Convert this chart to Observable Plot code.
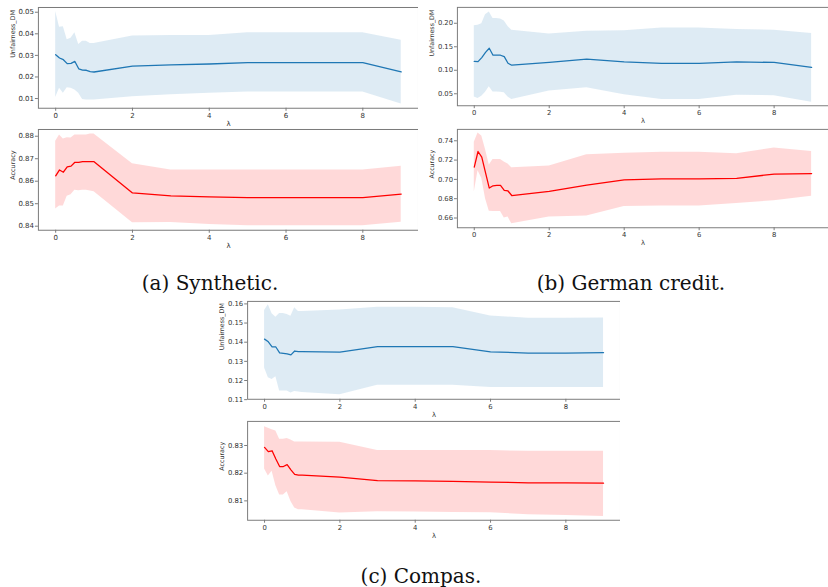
<!DOCTYPE html>
<html>
<head>
<meta charset="utf-8">
<script src="https://cdn.jsdelivr.net/npm/d3@7"></script>
<script src="https://cdn.jsdelivr.net/npm/@observablehq/plot@0.6"></script>
<style>
  html, body { margin: 0; padding: 0; background: #fff; }
  #root { position: relative; width: 828px; height: 587px; overflow: hidden; }
  .clip { position: absolute; overflow: hidden; }
  .clip svg { display: block; }
  .cap { position: absolute; font-family: "DejaVu Serif", "Liberation Serif", serif; font-size: 20px; color: #111; transform: translate(-50%, -50%); white-space: nowrap; }
</style>
</head>
<body>
<div id="root"></div>
<script>
// λ values
const lambdas = [0, 0.1, 0.2, 0.3, 0.4, 0.5, 0.6, 0.7, 0.8, 0.9, 1, 2, 3, 4, 5, 6, 7, 8, 9];
const xTicks = [0, 2, 4, 6, 8];

// (a) Synthetic
const synUnfMean = [0.0303, 0.0288, 0.0280, 0.0262, 0.0263, 0.0272, 0.0238, 0.0232, 0.0231, 0.0225, 0.0223, 0.0250, 0.0256, 0.0260, 0.0266, 0.0266, 0.0266, 0.0266, 0.0224];
const synUnfHi   = [0.0503, 0.0430, 0.0433, 0.0373, 0.0380, 0.0405, 0.0350, 0.0365, 0.0365, 0.0355, 0.0355, 0.0390, 0.0392, 0.0392, 0.0405, 0.0405, 0.0405, 0.0405, 0.0370];
const synUnfLo   = [0.0105, 0.0148, 0.0125, 0.0150, 0.0148, 0.0140, 0.0125, 0.0095, 0.0093, 0.0093, 0.0093, 0.0108, 0.0117, 0.0125, 0.0130, 0.0130, 0.0130, 0.0130, 0.0075];
const synAccMean = [0.8624, 0.8650, 0.8640, 0.8664, 0.8667, 0.8684, 0.8684, 0.8687, 0.8687, 0.8687, 0.8687, 0.8548, 0.8535, 0.8530, 0.8527, 0.8527, 0.8527, 0.8527, 0.8543];
const synAccHi   = [0.8778, 0.8805, 0.8788, 0.8793, 0.8792, 0.8805, 0.8806, 0.8806, 0.8806, 0.8810, 0.8810, 0.8678, 0.8650, 0.8650, 0.8650, 0.8650, 0.8650, 0.8650, 0.8667];
const synAccLo   = [0.8476, 0.8490, 0.8490, 0.8533, 0.8540, 0.8560, 0.8558, 0.8560, 0.8560, 0.8557, 0.8553, 0.8415, 0.8416, 0.8408, 0.8402, 0.8402, 0.8402, 0.8402, 0.8418];

// (b) German credit
const gerUnfMean = [0.1190, 0.1184, 0.1270, 0.1380, 0.1468, 0.1320, 0.1320, 0.1320, 0.1290, 0.1150, 0.1108, 0.1170, 0.1236, 0.1180, 0.1146, 0.1146, 0.1180, 0.1166, 0.1062];
const gerUnfHi   = [0.1950, 0.1960, 0.1990, 0.2180, 0.2240, 0.2100, 0.2100, 0.2090, 0.2050, 0.1930, 0.1850, 0.1770, 0.1830, 0.1840, 0.1900, 0.1900, 0.1870, 0.1850, 0.1780];
const gerUnfLo   = [0.0430, 0.0400, 0.0450, 0.0530, 0.0650, 0.0540, 0.0540, 0.0530, 0.0520, 0.0430, 0.0380, 0.0560, 0.0630, 0.0480, 0.0380, 0.0380, 0.0470, 0.0460, 0.0320];
const gerAccMean = [0.7127, 0.7289, 0.7231, 0.7070, 0.6910, 0.6934, 0.6937, 0.6937, 0.6887, 0.6880, 0.6833, 0.6875, 0.6940, 0.6995, 0.7005, 0.7005, 0.7010, 0.7055, 0.7060];
const gerAccHi   = [0.7385, 0.7480, 0.7450, 0.7310, 0.7150, 0.7205, 0.7205, 0.7205, 0.7180, 0.7160, 0.7120, 0.7140, 0.7255, 0.7270, 0.7280, 0.7280, 0.7265, 0.7325, 0.7290];
const gerAccLo   = [0.6870, 0.7090, 0.7010, 0.6800, 0.6670, 0.6668, 0.6668, 0.6668, 0.6600, 0.6610, 0.6540, 0.6610, 0.6620, 0.6720, 0.6725, 0.6725, 0.6750, 0.6780, 0.6825];

// (c) Compas
const comUnfMean = [0.1416, 0.1402, 0.1376, 0.1375, 0.1344, 0.1342, 0.1339, 0.1334, 0.1354, 0.1351, 0.1351, 0.1348, 0.1377, 0.1377, 0.1377, 0.1350, 0.1343, 0.1343, 0.1345];
const comUnfHi   = [0.1566, 0.1595, 0.1549, 0.1530, 0.1550, 0.1550, 0.1545, 0.1535, 0.1580, 0.1560, 0.1560, 0.1568, 0.1583, 0.1583, 0.1580, 0.1537, 0.1525, 0.1525, 0.1527];
const comUnfLo   = [0.1265, 0.1215, 0.1205, 0.1220, 0.1145, 0.1145, 0.1145, 0.1135, 0.1143, 0.1140, 0.1138, 0.1126, 0.1175, 0.1175, 0.1175, 0.1163, 0.1163, 0.1163, 0.1163];
const comAccMean = [0.8293, 0.8278, 0.8281, 0.8251, 0.8224, 0.8224, 0.8231, 0.8212, 0.8196, 0.8193, 0.8193, 0.8186, 0.8173, 0.8172, 0.8170, 0.8168, 0.8165, 0.8165, 0.8164];
const comAccHi   = [0.8368, 0.8362, 0.8357, 0.8352, 0.8323, 0.8323, 0.8325, 0.8320, 0.8313, 0.8313, 0.8313, 0.8312, 0.8282, 0.8282, 0.8282, 0.8282, 0.8279, 0.8279, 0.8279];
const comAccLo   = [0.8215, 0.8190, 0.8207, 0.8155, 0.8121, 0.8121, 0.8133, 0.8098, 0.8074, 0.8068, 0.8068, 0.8056, 0.8061, 0.8060, 0.8058, 0.8057, 0.8050, 0.8047, 0.8044];

const unfLabel = "Unfairness_DM";
const accLabel = "Accuracy";
const xLabel = "λ";
const captions = ["(a) Synthetic.", "(b) German credit.", "(c) Compas."];

const BLUE = "#1f77b4";
const RED = "#ff0000";

const root = document.getElementById("root");
const ML = 42, MT = 4, MB = 30, PW = 381;

function panel({mean, lo, hi, color, yDomain, yTicks, ylabel, L, T, B, clipR}) {
  const rows = lambdas.map((lam, i) => ({lam, mean: mean[i], lo: lo[i], hi: hi[i]}));
  const h = B - T;
  const chart = Plot.plot({
    width: ML + PW,
    height: MT + h + MB,
    marginLeft: ML, marginRight: 0, marginTop: MT, marginBottom: MB,
    x: {domain: [-0.45, 9.45]},
    y: {domain: yDomain},
    style: {fontFamily: "DejaVu Sans", fontSize: "7px", background: "transparent", color: "#333"},
    marks: [
      Plot.areaY(rows, {x: "lam", y1: "lo", y2: "hi", fill: color, fillOpacity: 0.15}),
      Plot.lineY(rows, {x: "lam", y: "mean", stroke: color, strokeWidth: 1.3}),
      Plot.frame({stroke: "#7a7a7a", strokeWidth: 1}),
      Plot.axisX({ticks: xTicks, tickSize: 3, tickPadding: 2, tickFormat: "d", stroke: "#7a7a7a", fill: "#333", label: null}),
      Plot.axisY({ticks: yTicks, tickSize: 3, tickPadding: 1.5, tickFormat: ".2f", stroke: "#7a7a7a", fill: "#333", label: null}),
      Plot.text([xLabel], {text: d => d, frameAnchor: "bottom", dy: 18, fontSize: 7, fill: "#333"}),
      Plot.text([ylabel], {text: d => d, frameAnchor: "left", rotate: -90, dx: -26, fontSize: 6.5, fill: "#333"})
    ]
  });
  const div = document.createElement("div");
  div.className = "clip";
  div.style.left = (L - ML) + "px";
  div.style.top = (T - MT) + "px";
  div.style.width = (clipR - (L - ML)) + "px";
  div.style.height = (MT + h + MB) + "px";
  div.appendChild(chart);
  root.appendChild(div);
}

// (a)
panel({mean: synUnfMean, lo: synUnfLo, hi: synUnfHi, color: BLUE, yDomain: [0.0055, 0.0522],
       yTicks: [0.01, 0.02, 0.03, 0.04, 0.05], ylabel: unfLabel, L: 38, T: 7, B: 108, clipR: 418});
panel({mean: synAccMean, lo: synAccLo, hi: synAccHi, color: RED, yDomain: [0.8382, 0.8830],
       yTicks: [0.84, 0.85, 0.86, 0.87, 0.88], ylabel: accLabel, L: 38, T: 129, B: 230, clipR: 418});
// (b)
panel({mean: gerUnfMean, lo: gerUnfLo, hi: gerUnfHi, color: BLUE, yDomain: [0.0245, 0.2338],
       yTicks: [0.05, 0.10, 0.15, 0.20], ylabel: unfLabel, L: 458, T: 7, B: 108, clipR: 828});
panel({mean: gerAccMean, lo: gerAccLo, hi: gerAccHi, color: RED, yDomain: [0.6499, 0.7518],
       yTicks: [0.66, 0.68, 0.70, 0.72, 0.74], ylabel: accLabel, L: 458, T: 129, B: 230, clipR: 828});
// (c)
panel({mean: comUnfMean, lo: comUnfLo, hi: comUnfHi, color: BLUE, yDomain: [0.1102, 0.1613],
       yTicks: [0.11, 0.12, 0.13, 0.14, 0.15, 0.16], ylabel: unfLabel, L: 248, T: 301, B: 401, clipR: 620});
panel({mean: comAccMean, lo: comAccLo, hi: comAccHi, color: RED, yDomain: [0.8030, 0.8387],
       yTicks: [0.81, 0.82, 0.83], ylabel: accLabel, L: 248, T: 421, B: 522, clipR: 620});

// captions
const capPos = [[210, 283], [631, 283], [421, 576]];
captions.forEach((c, i) => {
  const d = document.createElement("div");
  d.className = "cap";
  d.textContent = c;
  d.style.left = capPos[i][0] + "px";
  d.style.top = capPos[i][1] + "px";
  root.appendChild(d);
});
</script>
</body>
</html>
